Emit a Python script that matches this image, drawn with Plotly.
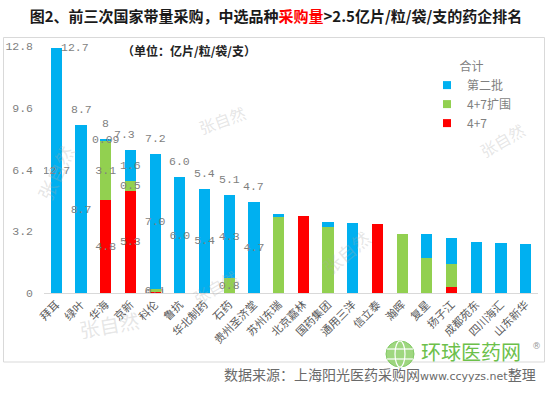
import plotly.graph_objects as go

categories = ["拜耳", "绿叶", "华海", "京新", "科伦", "鲁抗", "华北制药", "石药", "贵州圣济堂",
              "苏州东瑞", "北京嘉林", "国药集团", "通用三洋", "信立泰", "瀚晖", "复星", "扬子江",
              "成都苑东", "四川海汇", "山东新华"]
batch_47 = [0, 0, 4.8, 5.3, 0.1, 0, 0, 0, 0, 0, 4.0, 0, 0, 3.58, 0, 0, 0.33, 0, 0, 0]
batch_47ext = [0, 0, 3.1, 0.5, 0.1, 0, 0, 0.8, 0, 3.95, 0, 3.4, 0, 0, 3.08, 1.8, 1.17, 0, 0, 0]
batch_2 = [12.7, 8.7, 0.09, 1.6, 7.0, 6.0, 5.4, 4.3, 4.7, 0.15, 0, 0.26, 3.63, 0, 0, 1.26, 1.35, 2.66, 2.59, 2.54]
total_labels = ["12.7", "8.7", "8", "7.3", "7.2", "6.0", "5.4", "5.1", "4.7"]
y_ticks = [0, 3.2, 6.4, 9.6, 12.8]
y_tick_text = ["0", "3.2", "6.4", "9.6", "12.8"]

W, H = 552, 397
ML, MR, MT, MB = 44, 14, 46, 104
PW, PH = W - ML - MR, H - MT - MB


def px(x):
    return (x - ML) / PW


def py(y):
    return (H - MB - y) / PH


def seg_text(vals):
    out = []
    for i, v in enumerate(vals):
        if i < len(total_labels) and v > 0:
            out.append(f"{v:.2f}" if v < 0.1 else f"{v:.1f}")
        else:
            out.append("")
    return out


LABEL_FONT = dict(family="Liberation Mono", size=11.5, color="#7f7f7f")
series = [
    ("4+7", batch_47, "#ff0000"),
    ("4+7扩围", batch_47ext, "#92d050"),
    ("第二批", batch_2, "#00b0f0"),
]

fig = go.Figure()
for name, vals, color in series:
    fig.add_trace(go.Bar(
        x=categories, y=vals, name=name, marker=dict(color=color, line=dict(width=0)),
        text=seg_text(vals), textposition="inside", insidetextanchor="middle",
        textangle=0, constraintext="none", insidetextfont=LABEL_FONT,
        showlegend=False, legendgroup=name, hoverinfo="x+y+name",
    ))
for name, vals, color in series:
    fig.add_trace(go.Scatter(
        x=[None], y=[None], mode="markers", name=name, legendgroup=name,
        marker=dict(symbol="square", size=8, color=color),
    ))

totals = [a + b + c for a, b, c in zip(batch_47, batch_47ext, batch_2)]
annotations = []
for i, lab in enumerate(total_labels):
    xs, ys, ya = 0, 7, "bottom"
    if i == 0:
        xs, ys, ya = 19, 0, "middle"
    if i == 3:
        xs = -6
    annotations.append(dict(x=categories[i], y=totals[i], text=lab, showarrow=False,
                            xshift=xs, yshift=ys, yanchor=ya, font=LABEL_FONT))

# watermarks
wm = [(28, 172, -65, 19), (222, 98, -20, 16), (378, 282, -40, 18),
      (75, 346, -10, 20), (215, 312, -30, 16), (532, 115, -30, 16)]
for x, y, ang, s in wm:
    annotations.append(dict(xref="paper", yref="paper", x=px(x), y=py(y), text="张自然",
                            showarrow=False, textangle=ang,
                            font=dict(family="Noto Sans CJK SC", size=s, color="rgba(170,170,170,0.3)")))

annotations += [
    dict(xref="paper", yref="paper", x=px(120), y=py(51), xanchor="left", yanchor="middle",
         text="<b>（单位：亿片/粒/袋/支）</b>", showarrow=False,
         font=dict(family="Noto Sans CJK SC", size=12, color="#222222")),
    dict(xref="paper", yref="paper", x=px(419), y=py(351), xanchor="left", yanchor="middle",
         text="环球医药网", showarrow=False,
         font=dict(family="Noto Sans CJK SC", size=20, color="#6cc04a")),
    dict(xref="paper", yref="paper", x=px(536), y=py(346), xanchor="center", yanchor="middle",
         text="®", showarrow=False, font=dict(family="DejaVu Sans", size=9, color="#9a9a9a")),
    dict(xref="paper", yref="paper", x=px(538), y=py(374), xanchor="right", yanchor="middle",
         text="数据来源：上海阳光医药采购网<span style='font-family:DejaVu Sans;font-size:11px'>www.ccyyzs.net</span>整理",
         showarrow=False, font=dict(family="Noto Sans CJK SC", size=14, color="#6a6a6a")),
]

shapes = [
    dict(type="rect", xref="paper", yref="paper", x0=px(3.5), x1=px(544.5), y0=py(362), y1=py(37.5),
         line=dict(color="#d9d9d9", width=1), fillcolor="rgba(0,0,0,0)", layer="below"),
    dict(type="circle", xref="paper", yref="paper", x0=px(386), x1=px(414), y0=py(367), y1=py(341),
         line=dict(color="#6cc04a", width=1), fillcolor="#8fd16a", opacity=0.85),
    dict(type="line", xref="paper", yref="paper", x0=px(387), x1=px(413), y0=py(349), y1=py(349),
         line=dict(color="white", width=1.2)),
    dict(type="line", xref="paper", yref="paper", x0=px(387), x1=px(413), y0=py(359), y1=py(359),
         line=dict(color="white", width=1.2)),
    dict(type="circle", xref="paper", yref="paper", x0=px(395), x1=px(405), y0=py(367), y1=py(341),
         line=dict(color="white", width=1.2)),
]

fig.update_layout(
    width=W, height=H, barmode="stack", bargap=0.55,
    margin=dict(l=ML, r=MR, t=MT, b=MB, autoexpand=False),
    paper_bgcolor="white", plot_bgcolor="white",
    title=dict(text="<b>图2、前三次国家带量采购，中选品种<span style='color:#ff0000'>采购量</span>&gt;2.5亿片/粒/袋/支的药企排名</b>",
               x=0.5, xanchor="center", y=1 - 17 / H, yanchor="middle",
               font=dict(family="Noto Sans CJK SC", size=15, color="#1a1a1a")),
    xaxis=dict(type="category", tickangle=-45, showgrid=False, showline=True, linecolor="#d9d9d9",
               linewidth=1, ticks="", automargin=False,
               tickfont=dict(family="Noto Sans CJK SC", size=11, color="#595959"),
               fixedrange=True),
    yaxis=dict(range=[0, 12.8], tickvals=y_ticks, ticktext=y_tick_text, showgrid=False,
               zeroline=False, showline=False, ticks="", ticklabelstandoff=10, automargin=False,
               tickfont=LABEL_FONT),
    legend=dict(x=px(427), y=py(55), xanchor="left", yanchor="top", traceorder="reversed",
                bgcolor="rgba(0,0,0,0)", itemwidth=30, tracegroupgap=4,
                title=dict(text="合计", side="top center",
                           font=dict(family="Noto Sans CJK SC", size=12, color="#7f7f7f")),
                font=dict(family="Noto Sans CJK SC", size=12, color="#7f7f7f")),
    annotations=annotations, shapes=shapes,
)

fig.write_html("out.html", config={"displayModeBar": False},
               post_script="document.body.style.margin='0';document.body.style.overflow='hidden';")
